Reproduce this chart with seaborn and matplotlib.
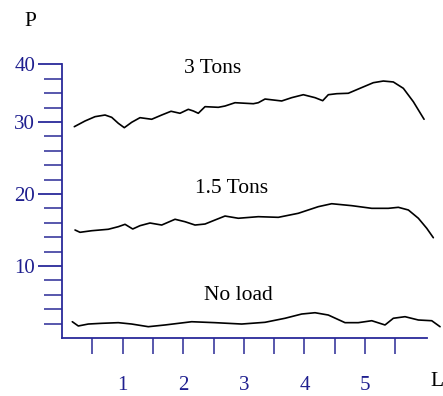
import numpy as np
import pandas as pd
import matplotlib
matplotlib.use("Agg")
import matplotlib.pyplot as plt
import seaborn as sns

# Data (x in L units, y in P units)
x_3t = [0.203, 0.380, 0.545, 0.710, 0.820, 0.929, 1.028, 1.150, 1.287, 1.480, 1.645, 1.799,
        1.947, 2.084, 2.167, 2.249, 2.360, 2.579, 2.690, 2.855, 3.157, 3.239, 3.350, 3.625,
        3.790, 3.982, 4.175, 4.302, 4.394, 4.533, 4.724, 4.917, 5.137, 5.302, 5.467, 5.632,
        5.797, 5.974]
y_3t = [29.35, 30.14, 30.74, 30.97, 30.65, 29.82, 29.21, 29.96, 30.60, 30.38, 30.97, 31.49,
        31.21, 31.76, 31.53, 31.21, 32.13, 32.04, 32.22, 32.68, 32.54, 32.68, 33.19, 32.92,
        33.38, 33.79, 33.38, 32.96, 33.79, 33.93, 33.99, 34.68, 35.46, 35.69, 35.56, 34.68,
        32.82, 30.38]
x_15t = [0.215, 0.297, 0.490, 0.764, 0.929, 1.040, 1.167, 1.287, 1.452, 1.645, 1.865, 2.030,
         2.195, 2.360, 2.525, 2.690, 2.909, 3.239, 3.569, 3.899, 4.229, 4.450, 4.781, 5.111,
         5.384, 5.550, 5.715, 5.880, 6.018, 6.127]
y_15t = [15.00, 14.68, 14.90, 15.10, 15.46, 15.79, 15.14, 15.60, 15.97, 15.69, 16.49, 16.15,
         15.69, 15.83, 16.39, 16.94, 16.63, 16.85, 16.76, 17.32, 18.24, 18.65, 18.38, 18.01,
         18.01, 18.15, 17.78, 16.63, 15.24, 13.93]
x_nl = [0.170, 0.269, 0.434, 0.655, 0.929, 1.150, 1.424, 1.700, 2.140, 2.525, 2.965, 3.350,
        3.680, 3.955, 4.175, 4.394, 4.670, 4.889, 5.111, 5.330, 5.467, 5.660, 5.880, 6.101,
        6.238]
y_nl = [2.26, 1.67, 1.94, 2.04, 2.13, 1.94, 1.57, 1.81, 2.26, 2.13, 1.94, 2.18,
        2.74, 3.33, 3.51, 3.19, 2.13, 2.13, 2.40, 1.81, 2.74, 2.96, 2.50, 2.40,
        1.57]

series_names = ["3 Tons", "1.5 Tons", "No load"]
x_ticklabels = ["1", "2", "3", "4", "5"]
y_ticklabels = ["10", "20", "30", "40"]

df = pd.concat([
    pd.DataFrame({"L": x_3t, "P": y_3t, "load": series_names[0]}),
    pd.DataFrame({"L": x_15t, "P": y_15t, "load": series_names[1]}),
    pd.DataFrame({"L": x_nl, "P": y_nl, "load": series_names[2]}),
], ignore_index=True)

sns.set_style("white")
plt.rcParams["font.family"] = ["Liberation Serif", "DejaVu Serif"]

fig = plt.figure(figsize=(4.43, 3.96), dpi=100)
ax = fig.add_axes([62 / 443, 58 / 396, 380.6 / 443, 277.2 / 396])

sns.lineplot(data=df, x="L", y="P", hue="load", units="load", estimator=None, sort=False,
             palette=["black"] * 3, linewidth=1.2, legend=False, ax=ax)
for ln in ax.lines:
    ln.set_solid_joinstyle("round")
    ln.set_antialiased(True)

ax.set_xlim(0, 6.28)
ax.set_ylim(0, 38.5)

navy = "#1f1f8f"
spine_c = "#2a2a9a"
tick_c = "#4a4aa6"
for s in ["top", "right"]:
    ax.spines[s].set_visible(False)
ax.spines["left"].set_bounds(0, 38)
ax.spines["bottom"].set_bounds(0, 6.02)
for s in ["left", "bottom"]:
    ax.spines[s].set_color(spine_c)
    ax.spines[s].set_linewidth(1.3)

ax.set_xticks([1, 2, 3, 4, 5])
ax.set_xticklabels(x_ticklabels)
ax.set_xticks([0.5, 1.5, 2.5, 3.5, 4.5, 5.5], minor=True)
ax.tick_params(axis="x", which="both", bottom=True, direction="out", length=11.5, width=1.3,
               color=tick_c, labelcolor=navy, labelsize=15, pad=16)

ax.set_yticks([10, 20, 30, 38])
ax.set_yticklabels(y_ticklabels)
ax.set_yticks([v for v in range(2, 38, 2) if v not in (10, 20, 30)], minor=True)
ax.tick_params(axis="y", which="major", left=True, direction="out", length=17.3, width=1.3,
               color=spine_c, labelcolor=navy, labelsize=15, pad=2)
ax.tick_params(axis="y", which="minor", left=True, direction="out", length=13, width=1.3,
               color=tick_c)

ax.set_xlabel("")
ax.set_ylabel("")
ax.grid(False)

ax.text(2.49, 37.5, series_names[0], ha="center", va="center", fontsize=15.5, color="black")
ax.text(2.805, 20.83, series_names[1], ha="center", va="center", fontsize=15.5, color="black")
ax.text(2.904, 5.97, series_names[2], ha="center", va="center", fontsize=15.5, color="black")

fig.text(30 / 443, 1 - 22 / 396, "P", ha="center", va="center", fontsize=15.5, color="black")
fig.text(437 / 443, 1 - 381 / 396, "L", ha="center", va="center", fontsize=15.5, color="black")

fig.savefig("out.png", dpi=100)
